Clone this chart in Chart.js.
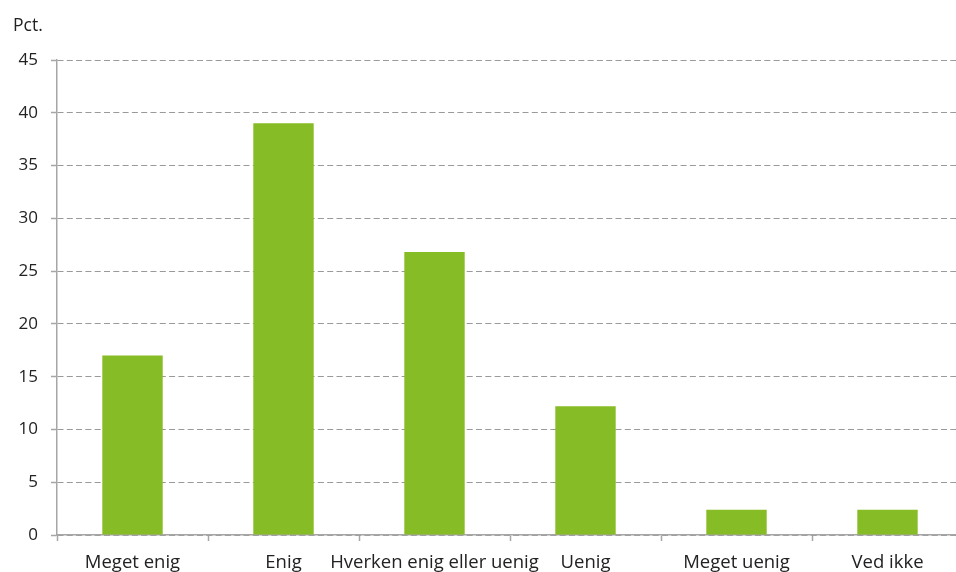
<!DOCTYPE html>
<html>
<head>
<meta charset="utf-8">
<script src="https://cdn.jsdelivr.net/npm/chart.js@4/dist/chart.umd.min.js"></script>
<style>
  html, body { margin: 0; padding: 0; background: #fff; overflow: hidden; }
  #wrap { width: 964px; height: 580px; position: relative; }
</style>
</head>
<body>
<div id="wrap"><canvas id="chart"></canvas></div>
<script>
// data
var categories = ['Meget enig', 'Enig', 'Hverken enig eller uenig', 'Uenig', 'Meget uenig', 'Ved ikke'];
var values = [17, 39, 26.8, 12.2, 2.4, 2.4];
var yTicks = [0, 5, 10, 15, 20, 25, 30, 35, 40, 45];

var unitLabel = {
    id: 'unitLabel',
    afterDraw: function(chart) {
        var ctx = chart.ctx;
        ctx.save();
        ctx.font = "17.5px 'Open Sans'";
        ctx.fillStyle = '#222';
        ctx.textBaseline = 'alphabetic';
        ctx.textAlign = 'left';
        ctx.fillText('Pct.', 13, 31);
        ctx.restore();
    }
};

new Chart(document.getElementById('chart'), {
    type: 'bar',
    data: {
        labels: categories,
        datasets: [{
            data: values,
            backgroundColor: '#86bc25',
            borderWidth: 0,
            barPercentage: 0.4,
            categoryPercentage: 1
        }]
    },
    options: {
        responsive: true,
        maintainAspectRatio: false,
        animation: false,
        layout: { padding: { top: 60, right: 1, left: 0, bottom: 0 } },
        plugins: { legend: { display: false }, tooltip: { enabled: false } },
        scales: {
            x: {
                offset: true,
                grid: {
                    offset: true,
                    drawOnChartArea: false,
                    drawTicks: true,
                    tickLength: 6,
                    tickColor: '#a6a6a6',
                    tickWidth: 1.5
                },
                border: { color: '#a6a6a6', width: 1.5 },
                ticks: {
                    color: '#222',
                    font: { family: 'Open Sans', size: 18.5 },
                    padding: 11,
                    maxRotation: 0,
                    autoSkip: false
                },
                afterFit: function(scale) { scale.height = 45; }
            },
            y: {
                min: 0,
                max: 45,
                afterBuildTicks: function(scale) {
                    scale.ticks = yTicks.map(function(v) { return { value: v }; });
                },
                grid: {
                    color: '#9a9a9a',
                    lineWidth: 1,
                    tickLength: 6,
                    tickColor: '#a6a6a6',
                    tickWidth: 1.5
                },
                border: { color: '#a6a6a6', width: 1.5, dash: [6, 3.3] },
                ticks: {
                    color: '#222',
                    font: { family: 'Open Sans', size: 17 },
                    padding: 13
                },
                afterFit: function(scale) { scale.width = 57; }
            }
        }
    },
    plugins: [unitLabel]
});
</script>
</body>
</html>
